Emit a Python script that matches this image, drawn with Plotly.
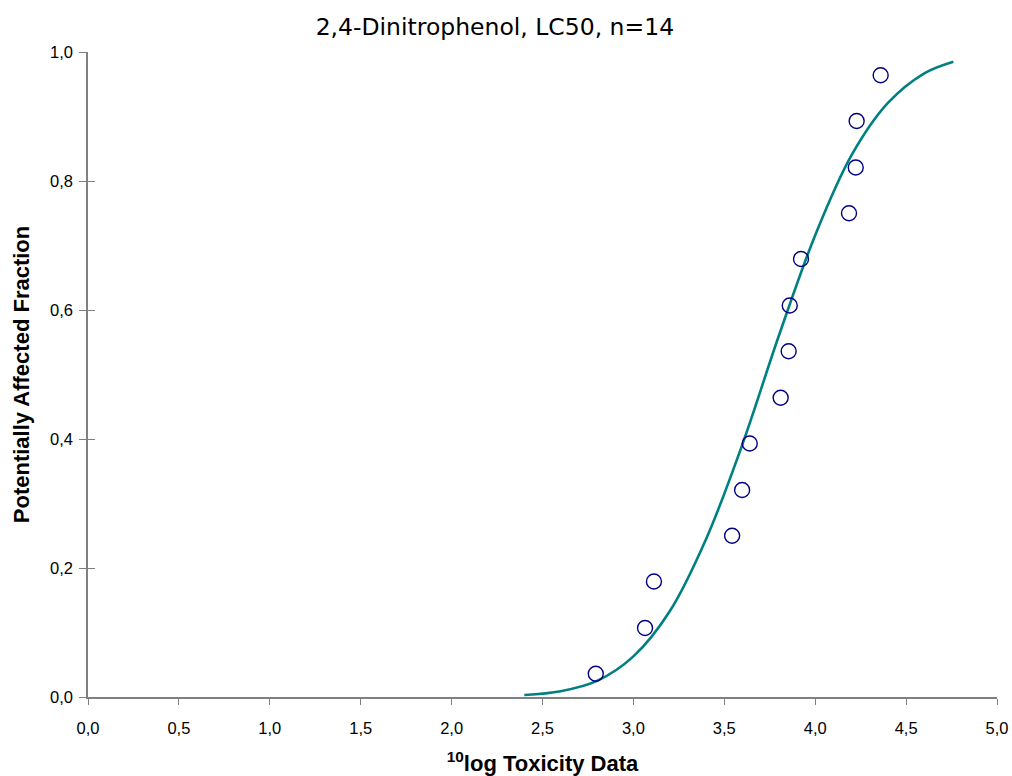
import plotly.graph_objects as go

# Observed data points (log10 toxicity, potentially affected fraction)
obs_x = [2.793, 3.064, 3.113, 3.543, 3.598, 3.640, 3.810, 3.854, 3.860, 3.922, 4.186, 4.223, 4.228, 4.360]
obs_y = [0.036, 0.107, 0.179, 0.250, 0.321, 0.393, 0.464, 0.536, 0.607, 0.679, 0.750, 0.821, 0.893, 0.964]

# Fitted curve
curve_x = [2.40, 2.60, 2.80, 3.00, 3.20, 3.40, 3.60, 3.80, 4.00, 4.20, 4.40, 4.60, 4.76]
curve_y = [0.003, 0.009, 0.025, 0.063, 0.133, 0.245, 0.392, 0.560, 0.716, 0.840, 0.921, 0.967, 0.985]

x_ticks = [0, 0.5, 1, 1.5, 2, 2.5, 3, 3.5, 4, 4.5, 5]
y_ticks = [0, 0.2, 0.4, 0.6, 0.8, 1.0]

fig = go.Figure()
fig.add_trace(go.Scatter(
    x=curve_x, y=curve_y, mode="lines", line=dict(color="#008080", width=2.6, shape="spline"),
    showlegend=False, hoverinfo="skip"))
fig.add_trace(go.Scatter(
    x=obs_x, y=obs_y, mode="markers",
    marker=dict(symbol="circle-open", size=15, color="#000080", line=dict(width=1.4, color="#000080")),
    showlegend=False))
# empty trace on an overlay axis to draw the inner half of the y tick marks
fig.add_trace(go.Scatter(x=[], y=[], yaxis="y2", showlegend=False, hoverinfo="skip"))

tick_font = dict(family="Liberation Sans, Arial", size=16.5, color="black")
title_font = dict(family="Liberation Sans, Arial", size=22, color="black", weight="bold")

fig.update_layout(
    width=1012, height=776,
    paper_bgcolor="white", plot_bgcolor="white",
    separators=", ",
    margin=dict(l=88, r=15, t=52, b=79),
    title=dict(text="2,4-Dinitrophenol, LC50, n=14", x=0.489, xanchor="center", y=0.965, yanchor="middle",
               font=dict(family="DejaVu Sans, Verdana", size=23.5, color="black")),
    xaxis=dict(range=[0, 5], tickvals=x_ticks, tickformat=".1f", automargin=False,
               showgrid=False, zeroline=False, showline=True, linecolor="#808080", linewidth=1.5,
               ticks="outside", ticklen=6, tickcolor="#808080", tickwidth=1.2, tickfont=tick_font,
               ticklabelstandoff=9,
               title=dict(text="<sup>10</sup>log Toxicity Data", standoff=22, font=title_font)),
    yaxis=dict(range=[0, 1], tickvals=y_ticks, tickformat=".1f", automargin=False,
               showgrid=False, zeroline=False, showline=True, linecolor="#808080", linewidth=1.5,
               ticks="outside", ticklen=7, tickcolor="#808080", tickwidth=1.2, tickfont=tick_font,
               ticklabelstandoff=3,
               title=dict(text="Potentially Affected Fraction", standoff=14, font=title_font)),
    yaxis2=dict(range=[0, 1], tickvals=y_ticks, overlaying="y", side="left", showticklabels=False,
                showgrid=False, zeroline=False, showline=False, automargin=False,
                ticks="inside", ticklen=7, tickcolor="#808080", tickwidth=1.2),
)

fig.write_html("out.html", config={"displayModeBar": False},
               post_script="document.body.style.margin='0';")
